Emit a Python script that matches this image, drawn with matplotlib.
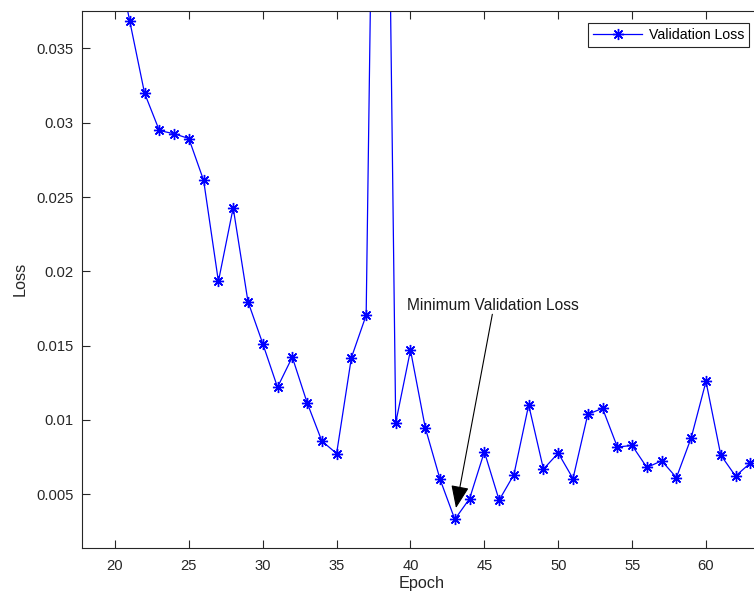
import numpy as np
import matplotlib.pyplot as plt

# data
epochs = np.arange(20, 64)
val_loss = [0.0417, 0.03684, 0.0320, 0.02948, 0.02926, 0.02894, 0.02612, 0.01932,
            0.02428, 0.01797, 0.01514, 0.0122, 0.01423, 0.01117, 0.00858, 0.00774,
            0.01419, 0.01705, 0.0900, 0.0098, 0.0147, 0.00948, 0.00601, 0.00331,
            0.0047, 0.00786, 0.0046, 0.00632, 0.01101, 0.00669, 0.00777, 0.00605,
            0.01038, 0.01078, 0.00818, 0.00828, 0.0068, 0.00725, 0.00612, 0.0088,
            0.01259, 0.00764, 0.00622, 0.0071]
x_ticks = [20, 25, 30, 35, 40, 45, 50, 55, 60]
y_ticks = [0.005, 0.01, 0.015, 0.02, 0.025, 0.03, 0.035]
y_ticklabels = ['0.005', '0.01', '0.015', '0.02', '0.025', '0.03', '0.035']

plt.rcParams['font.family'] = ['Liberation Sans', 'DejaVu Sans']
axcol = '#262626'

fig = plt.figure(figsize=(7.54, 5.96), dpi=100)
ax = fig.add_axes([0.1088, 0.081, 0.9010, 0.9005])

ax.plot(epochs, val_loss, color='#0000ff', lw=0.9, marker=(8, 2, 0),
        markersize=8, markeredgewidth=1.0, label='Validation Loss')

ax.set_xlim(17.77, 63.75)
ax.set_ylim(0.0014, 0.03752)
ax.set_xticks(x_ticks)
ax.set_yticks(y_ticks)
ax.set_yticklabels(y_ticklabels)

ax.tick_params(direction='in', length=6, width=0.8, colors=axcol,
               labelsize=10.6, top=True, right=False, pad=8)
ax.tick_params(axis='y', pad=6)
for s in ax.spines.values():
    s.set_color(axcol)
    s.set_linewidth(0.8)

ax.set_xlabel('Epoch', fontsize=11.7, color=axcol, labelpad=2)
ax.set_ylabel('Loss', fontsize=11.7, color=axcol, labelpad=6)

# annotation for the minimum
ax.text(39.76, 0.01772, 'Minimum Validation Loss', fontsize=11.2,
        va='center', ha='left', color='#1a1a1a')
ax.annotate('', xy=(43.08, 0.00407), xytext=(45.54, 0.01711),
            arrowprops=dict(arrowstyle='-|>,head_length=0.7,head_width=0.28',
                            lw=0.8, color='k', mutation_scale=20,
                            shrinkA=0, shrinkB=0))

leg = ax.legend(loc='upper right', bbox_to_anchor=(749 / 754, 1 - 23.3 / 596),
                bbox_transform=fig.transFigure, borderaxespad=0,
                fontsize=10.2, fancybox=False, framealpha=1,
                handlelength=3.4, handletextpad=0.5, borderpad=0.35)
leg.get_frame().set_edgecolor(axcol)
leg.get_frame().set_linewidth(0.8)

fig.savefig('out.png', dpi=100)
